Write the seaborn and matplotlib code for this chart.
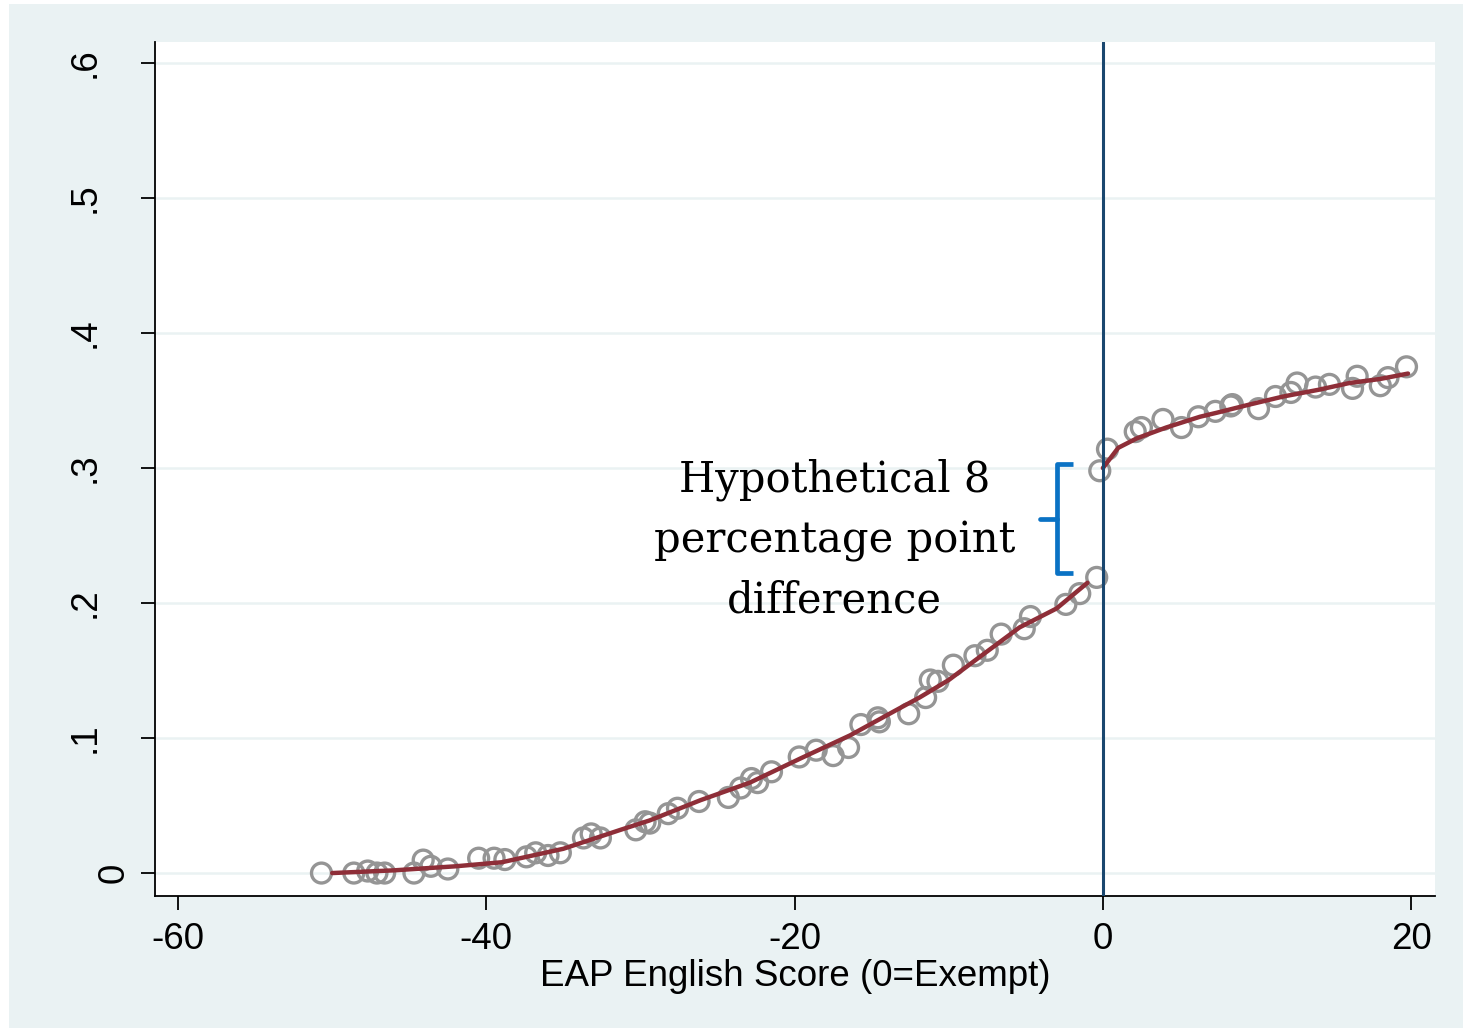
import numpy as np
import pandas as pd
import matplotlib
matplotlib.use("Agg")
import matplotlib.pyplot as plt
from matplotlib.patches import Rectangle
import seaborn as sns

# ---------------- data ----------------
left_x = [-50.7, -48.6, -47.7, -47.1, -46.6, -44.7, -44.1, -43.6, -42.5, -40.5,
          -39.5, -38.8, -37.4, -36.8, -36.0, -35.2, -33.7, -33.2, -32.6, -30.3,
          -29.7, -29.4, -28.2, -27.6, -26.2, -24.3, -23.5, -22.8, -22.4, -21.5,
          -19.7, -18.6, -17.5, -16.5, -15.7, -14.6, -14.5, -12.6, -11.5, -11.2,
          -10.7, -9.7, -8.3, -7.5, -6.6, -5.1, -4.7, -2.4, -1.5, -0.4]
left_y = [0.000, 0.000, 0.0015, 0.000, 0.000, 0.000, 0.0096, 0.005, 0.003, 0.011,
          0.011, 0.010, 0.012, 0.015, 0.013, 0.015, 0.026, 0.029, 0.026, 0.032,
          0.038, 0.037, 0.044, 0.048, 0.053, 0.056, 0.063, 0.070, 0.067, 0.075,
          0.086, 0.091, 0.087, 0.093, 0.110, 0.115, 0.112, 0.118, 0.130, 0.143,
          0.142, 0.154, 0.161, 0.165, 0.177, 0.181, 0.190, 0.199, 0.207, 0.219]

right_x = [-0.2, 0.3, 2.1, 2.5, 3.9, 5.1, 6.2, 7.3, 8.3, 8.4, 10.1, 11.2, 12.2,
           12.6, 13.8, 14.7, 16.2, 16.5, 18.0, 18.5, 19.7]
right_y = [0.298, 0.314, 0.327, 0.330, 0.336, 0.330, 0.338, 0.342, 0.346, 0.347,
           0.344, 0.353, 0.356, 0.363, 0.360, 0.362, 0.359, 0.368, 0.361, 0.367,
           0.375]

fit_left_x = [-50, -46, -42, -39, -35, -31.3, -29.4, -26.1, -22.9, -19.6, -16.4,
              -13.2, -11.9, -10, -8, -5.4, -3, -1]
fit_left_y = [0.000, 0.002, 0.005, 0.008, 0.018, 0.032, 0.039, 0.054, 0.067, 0.085,
              0.102, 0.122, 0.130, 0.143, 0.160, 0.182, 0.196, 0.215]

fit_right_x = [0.0, 1.0, 2.2, 4.1, 6.3, 7.4, 9.5, 11.7, 14.0, 16.0, 18.0, 19.8]
fit_right_y = [0.300, 0.315, 0.322, 0.330, 0.338, 0.341, 0.347, 0.353, 0.358, 0.363,
               0.366, 0.370]

x_ticks = [-60, -40, -20, 0, 20]
x_tick_labels = ["-60", "-40", "-20", "0", "20"]
y_ticks = [0, 0.1, 0.2, 0.3, 0.4, 0.5, 0.6]
y_tick_labels = ["0", ".1", ".2", ".3", ".4", ".5", ".6"]
cutoff = 0
x_label = "EAP English Score (0=Exempt)"
note_text = "Hypothetical 8\npercentage point\ndifference"
note_pos = (-17.4, 0.2467)
# brace annotation: arm end x, spine x, tip x, top y, middle y, bottom y
brace_x = [-1.95, -2.98, -4.09]
brace_y = [0.303, 0.262, 0.222]

# ---------------- styling ----------------
BG = "#EAF2F3"
GRAY = "#959595"
MAROON = "#8E2E38"
NAVY = "#1A476F"
BLUE = "#0A72C4"

sns.set_theme(style="white")
plt.rcParams["font.family"] = ["Liberation Sans", "DejaVu Sans"]
plt.rcParams["text.color"] = "black"
plt.rcParams["axes.labelcolor"] = "black"
plt.rcParams["xtick.color"] = "black"
plt.rcParams["ytick.color"] = "black"

W, H = 1463, 1032
fig = plt.figure(figsize=(W / 100, H / 100), dpi=100, facecolor="white")
fig.patches.append(Rectangle((9 / W, 4 / H), 1 - 9 / W, 1 - 8 / H,
                             transform=fig.transFigure, facecolor=BG,
                             edgecolor="none", zorder=-10))
ax = fig.add_axes([155 / W, 1 - 896 / H, (1435 - 155) / W, (896 - 42) / H])
ax.set_facecolor("white")

ax.set_xlim(-61.5, 21.55)
ax.set_ylim(-0.0170, 0.6156)

# gridlines
for yv in y_ticks:
    ax.axhline(yv, color=BG, lw=1.8, zorder=0)

df_l = pd.DataFrame({"x": left_x, "y": left_y})
df_r = pd.DataFrame({"x": right_x, "y": right_y})
sc_kw = dict(s=205, marker="o", facecolor="none", edgecolor=GRAY, linewidth=2.4,
             zorder=3, legend=False)
sns.scatterplot(data=df_l, x="x", y="y", ax=ax, **sc_kw)
sns.scatterplot(data=df_r, x="x", y="y", ax=ax, **sc_kw)

fl = pd.DataFrame({"x": fit_left_x, "y": fit_left_y})
fr = pd.DataFrame({"x": fit_right_x, "y": fit_right_y})
sns.lineplot(data=fl, x="x", y="y", ax=ax, color=MAROON, lw=3.2, sort=False,
             estimator=None, zorder=4)
sns.lineplot(data=fr, x="x", y="y", ax=ax, color=MAROON, lw=3.2, sort=False,
             estimator=None, zorder=4)

ax.axvline(cutoff, color=NAVY, lw=2.2, zorder=5)

# brace
xa, xs, xt = brace_x
yt, ym, yb = brace_y
ax.plot([xa, xs, xs, xa], [yt, yt, yb, yb], color=BLUE, lw=3.4,
        solid_joinstyle="round", solid_capstyle="butt", zorder=6)
ax.plot([xs, xt], [ym, ym], color=BLUE, lw=3.4, solid_capstyle="round", zorder=6)

ax.text(note_pos[0], note_pos[1], note_text, ha="center", va="center",
        multialignment="center", fontsize=30, family=["DejaVu Serif"],
        linespacing=1.55, color="black", zorder=7)

# axes
ax.set_xticks(x_ticks)
ax.set_xticklabels(x_tick_labels)
ax.set_yticks(y_ticks)
ax.set_yticklabels(y_tick_labels, rotation=90, va="center")
ax.tick_params(axis="x", direction="out", length=10, width=1.3, colors="black",
               labelsize=26.5, pad=9, bottom=True)
ax.tick_params(axis="y", direction="out", length=10, width=1.3, colors="black",
               labelsize=26.5, pad=27.5, left=True)
# the "0" label sits closer to the axis in the reference
ax.yaxis.get_major_ticks()[0].set_pad(6.5)
for s in ["top", "right"]:
    ax.spines[s].set_visible(False)
for s in ["left", "bottom"]:
    ax.spines[s].set_color("black")
    ax.spines[s].set_linewidth(1.3)
ax.set_xlabel(x_label, fontsize=26.5, labelpad=1, color="black")
ax.set_ylabel("")

fig.savefig("out.png", dpi=100, facecolor=fig.get_facecolor())
